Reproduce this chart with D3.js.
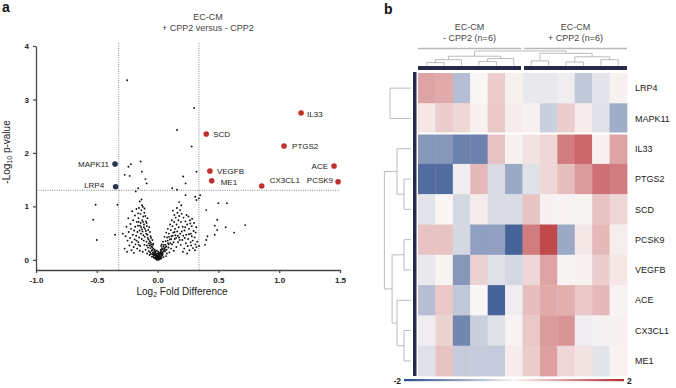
<!DOCTYPE html>
<html>
<head>
<meta charset="utf-8">
<script src="https://cdn.jsdelivr.net/npm/d3@7"></script>
<style>
    body { margin: 0; background: #fff; }
    svg { display: block; font-family: "Liberation Sans", Arial, sans-serif; }
</style>
</head>
<body>
<svg id="drawing_region" width="676" height="388"></svg>
<script>
// ---------- panel a : volcano ----------
const sigGenes = ["IL33", "SCD", "PTGS2", "VEGFB", "ME1", "CX3CL1", "ACE", "PCSK9", "MAPK11", "LRP4"];
const sigFC    = [1.18, 0.40, 1.04, 0.43, 0.445, 0.856, 1.451, 1.484, -0.35, -0.345];
const sigP     = [2.746, 2.353, 2.129, 1.661, 1.48, 1.38, 1.755, 1.461, 1.792, 1.367];
const sigUp    = [1, 1, 1, 1, 1, 1, 1, 1, 0, 0];

const xTicks = [-1.0, -0.5, 0.0, 0.5, 1.0, 1.5];
const yTicks = [0, 1, 2, 3, 4];
const fcCut = [-0.32, 0.34];
const pCut = 1.3;

// all other proteins [log2 fold difference, -log10 p]
const bgPoints = [
    [-0.25,3.36],[0.30,2.84],[0.16,2.43],[0.28,2.12],
    [-0.14,1.84],[-0.22,1.79],[-0.24,1.74],[-0.13,1.65],[-0.27,1.59],[-0.23,1.57],[-0.10,1.51],[-0.09,1.43],
    [-0.16,1.34],[-0.18,1.28],[0.12,1.34],[0.16,1.31],[0.21,1.56],[0.23,1.43],[0.32,1.65],[0.23,1.21],
    [0.31,1.18],[0.32,1.12],[0.34,1.15],[0.35,1.21],
    [-0.51,1.03],[-0.53,0.75],[-0.50,0.37],[-0.35,0.47],[-0.33,1.03],
    [0.40,0.93],[0.50,1.06],[0.57,1.06],[0.49,0.75],[0.56,0.61],[0.47,0.64],[0.49,0.56],[0.72,0.65],
    [0.63,0.51],[0.47,0.47],[0.41,0.44],[0.40,0.37],[0.39,0.28],[0.34,0.26],
    // left arm
    [-0.021,0.12],[-0.035,0.21],[-0.048,0.17],[-0.052,0.29],[-0.064,0.35],[-0.058,0.44],[-0.072,0.31],
    [-0.081,0.41],[-0.077,0.56],[-0.093,0.49],[-0.088,0.63],[-0.104,0.58],[-0.097,0.72],[-0.112,0.66],
    [-0.118,0.81],[-0.126,0.74],[-0.109,0.88],[-0.134,0.93],[-0.128,1.02],[-0.141,0.86],[-0.147,1.09],
    [-0.153,0.97],[-0.139,0.69],[-0.157,0.78],[-0.162,0.64],[-0.148,0.55],[-0.171,0.71],[-0.166,0.52],
    [-0.184,0.62],[-0.176,0.45],[-0.193,0.55],[-0.188,0.38],[-0.204,0.47],[-0.211,0.33],[-0.219,0.58],
    [-0.226,0.41],[-0.238,0.52],[-0.232,0.27],[-0.247,0.36],[-0.256,0.62],[-0.263,0.44],[-0.271,0.21],
    [-0.286,0.49],[-0.215,0.18],[-0.197,0.24],[-0.182,0.29],[-0.168,0.21],[-0.159,0.33],[-0.143,0.26],
    [-0.131,0.39],[-0.122,0.15],[-0.117,0.46],[-0.108,0.28],[-0.099,0.19],[-0.092,0.34],[-0.086,0.12],
    [-0.079,0.23],[-0.071,0.16],[-0.066,0.09],[-0.059,0.22],[-0.047,0.06],[-0.041,0.13],[-0.033,0.05],
    [-0.028,0.16],[-0.019,0.04],[-0.014,0.08],[-0.011,0.02],[-0.124,0.53],[-0.136,0.61],[-0.152,0.42],
    [-0.161,0.87],[-0.174,0.95],[-0.186,0.83],[-0.201,0.74],[-0.209,0.91],[-0.223,0.67],[-0.241,0.78],
    [-0.114,0.36],[-0.083,0.47],[-0.069,0.61],[-0.101,0.82],[-0.121,0.99],[-0.132,1.13],[-0.173,0.36],
    [-0.195,0.13],[-0.251,0.15],[-0.146,0.17],[-0.063,0.52],[-0.054,0.41],[-0.043,0.37],
    [-0.096,0.54],[-0.106,0.43],[-0.089,0.27],[-0.075,0.38],[-0.113,0.61],[-0.129,0.57],[-0.137,0.49],
    [-0.091,0.69],[-0.084,0.78],[-0.119,0.71],[-0.145,0.64],[-0.155,0.71],[-0.107,0.96],[-0.068,0.27],
    [-0.057,0.32],[-0.049,0.25],[-0.044,0.19],[-0.038,0.28],[-0.061,0.14],[-0.027,0.09],[-0.155,0.28],
    // right arm
    [0.018,0.09],[0.027,0.15],[0.036,0.22],[0.043,0.11],[0.051,0.28],[0.058,0.19],[0.066,0.35],
    [0.072,0.25],[0.079,0.42],[0.086,0.31],[0.093,0.49],[0.101,0.38],[0.108,0.56],[0.114,0.44],
    [0.122,0.63],[0.129,0.51],[0.136,0.71],[0.143,0.58],[0.149,0.79],[0.156,0.66],[0.163,0.88],
    [0.171,0.74],[0.159,0.97],[0.178,0.82],[0.184,0.93],[0.192,0.71],[0.198,0.86],[0.206,0.62],
    [0.213,0.79],[0.221,0.55],[0.228,0.72],[0.236,0.47],[0.243,0.66],[0.251,0.39],[0.258,0.58],
    [0.266,0.74],[0.273,0.49],[0.281,0.63],[0.289,0.36],[0.296,0.54],[0.304,0.42],[0.311,0.29],
    [0.318,0.61],[0.326,0.34],[0.291,0.22],[0.276,0.27],[0.262,0.18],[0.247,0.26],[0.233,0.31],
    [0.219,0.21],[0.204,0.37],[0.191,0.28],[0.177,0.42],[0.168,0.33],[0.154,0.24],[0.141,0.39],
    [0.133,0.17],[0.119,0.29],[0.111,0.21],[0.097,0.14],[0.089,0.23],[0.076,0.12],[0.069,0.07],
    [0.061,0.16],[0.048,0.05],[0.039,0.08],[0.031,0.04],[0.022,0.03],[0.013,0.05],[0.009,0.02],
    [0.117,0.74],[0.138,0.84],[0.147,0.46],[0.161,0.53],[0.174,0.61],[0.186,0.49],[0.199,0.53],
    [0.211,0.45],[0.224,0.41],[0.238,0.84],[0.254,0.81],[0.269,0.68],[0.284,0.77],[0.299,0.69],
    [0.313,0.51],[0.195,1.02],[0.176,1.08],[0.126,0.92],[0.102,0.66],[0.084,0.58],[0.071,0.51],
    [0.057,0.43],[0.045,0.34],[0.029,0.26],[0.208,0.15],[0.243,0.12],[0.272,0.33],[0.307,0.18],[0.319,0.24],
    [0.064,0.28],[0.074,0.19],[0.083,0.36],[0.091,0.29],[0.106,0.31],[0.112,0.39],[0.124,0.45],
    [0.131,0.33],[0.139,0.52],[0.152,0.41],[0.166,0.45],[0.182,0.37],[0.054,0.21],[0.046,0.15],
    [0.035,0.12],[0.026,0.19],[0.094,0.43],[0.258,0.48],[0.227,0.61],[0.281,0.44],
    // bottom of the V
    [0.000,0.01],[0.004,0.03],[-0.004,0.02],[0.007,0.06],[-0.007,0.05],[0.011,0.09],[-0.012,0.11],
    [0.015,0.13],[-0.016,0.07],[0.020,0.06],[-0.023,0.09],[0.024,0.11],[-0.026,0.03],[0.002,0.08],
    [-0.002,0.12],[0.016,0.02],[-0.009,0.01],[0.006,0.15],[-0.006,0.17],[0.031,0.18],[-0.031,0.13],
    [0.037,0.14],[-0.038,0.10],[0.012,0.04],[-0.017,0.15],[0.028,0.07],[-0.024,0.19],[0.041,0.20],
    [-0.044,0.24],[0.053,0.17],[-0.055,0.11],[0.062,0.23],[-0.062,0.27],[0.034,0.29],[-0.036,0.30],[0.047,0.25],
    [0.003,0.04],[-0.003,0.06],[0.009,0.03],[-0.010,0.04],[0.014,0.07],[-0.014,0.03],[0.018,0.10],
    [-0.019,0.12],[0.008,0.11],[-0.008,0.08],[0.021,0.14],[-0.021,0.16],[0.005,0.01],[-0.005,0.00],
    [0.010,0.00],[-0.012,0.02],[0.017,0.05],[-0.029,0.11],[0.032,0.10],[-0.034,0.07],[0.026,0.02]
];

// ---------- panel b : heatmap ----------
const rowGenes = ["LRP4", "MAPK11", "IL33", "PTGS2", "SCD", "PCSK9", "VEGFB", "ACE", "CX3CL1", "ME1"];
const colSamples = ["neg1", "neg2", "neg3", "neg4", "neg5", "neg6", "pos1", "pos2", "pos3", "pos4", "pos5", "pos6"];
const groupNames = ["- CPP2 (n=6)", "+ CPP2 (n=6)"];
const heatValues = [
    [0.8, 0.75, -0.65, 0.0, 0.4, 0.05, -0.15, -0.15, -0.1, -0.55, -0.2, 0.05],
    [0.15, 0.4, 0.3, 0.05, 0.45, 0.1, 0.05, -0.45, 0.4, 0.1, -0.25, -0.85],
    [-1.1, -1.1, -1.35, -1.35, 0.5, 0.05, 0.2, 0.3, 1.2, 1.4, 0.05, 0.8],
    [-1.6, -1.6, -0.1, 0.6, -0.3, -0.9, -0.25, 0.3, 0.55, 0.9, 1.3, 1.2],
    [-0.2, 0.0, -0.35, 0.1, -0.3, -0.3, 0.5, 0.05, 0.03, 0.02, 0.5, 0.3],
    [0.5, 0.5, -0.35, -1.0, -1.0, -1.7, 1.2, 1.7, -0.9, 0.15, 0.6, 0.08],
    [-0.15, 0.02, -1.1, 0.35, -0.25, -0.35, 0.3, 0.8, 0.02, 0.05, 0.4, 0.15],
    [-0.65, 0.45, -0.55, 0.0, -1.7, -0.1, 0.55, 0.75, 0.7, 0.45, 0.6, 0.02],
    [-0.1, 0.35, -1.3, -0.45, -0.25, 0.03, 0.45, 0.9, 0.95, -0.1, -0.05, 0.05],
    [-0.25, 0.5, -0.5, -0.5, -0.5, 0.1, 0.4, 0.85, 0.3, 0.2, -0.2, 0.03]
];
const colorStops = [-2, 0, 2];

// dendrograms: [height, left, right], leaves are names
const rowTreeTop = [3, "LRP4", "MAPK11"];
const rowTreeBottom = [3.8,
    [2, "IL33", [1, "PTGS2", "SCD"]],
    [2.7, [1, "PCSK9", "VEGFB"], [2, "ACE", [1, "CX3CL1", "ME1"]]]];
const colTree = [5,
    [3.2, [2, [1, "neg1", "neg2"], "neg3"], [2.4, [1.4, "neg4", "neg5"], "neg6"]],
    [4.2, [1.6, "pos1", "pos2"], [3, [1.2, "pos3", "pos4"], [2, "pos5", "pos6"]]]];

const svg = d3.select('#drawing_region');

// ===== volcano =====
const xscale = d3.scaleLinear().domain([-1, 1.5]).range([36, 340]);
const yscale = d3.scaleLinear().domain([-0.19, 4]).range([270, 46]);

svg.append('text').attr('x', 2).attr('y', 12)
    .attr('font-size', '14px').attr('font-weight', 'bold').attr('fill', '#111').text('a');

const title = svg.append('text').attr('text-anchor', 'middle').attr('font-size', '9px').attr('fill', '#444');
title.append('tspan').attr('x', 208).attr('y', 20).text('EC-CM');
title.append('tspan').attr('x', 208).attr('y', 31).text('+ CPP2 versus - CPP2');

// threshold lines
const thr = svg.append('g').attr('stroke', '#8a8a8a').attr('stroke-width', 1).attr('stroke-dasharray', '1,1.3');
fcCut.forEach(v => {
    thr.append('line').attr('x1', xscale(v)).attr('x2', xscale(v))
        .attr('y1', yscale(4.05)).attr('y2', yscale(-0.19));
});
thr.append('line').attr('x1', xscale(-1)).attr('x2', xscale(1.5))
    .attr('y1', yscale(pCut)).attr('y2', yscale(pCut));

// background points
svg.append('g').selectAll('circle')
    .data(bgPoints)
    .join('circle')
    .attr('cx', d => xscale(d[0]))
    .attr('cy', d => yscale(d[1]))
    .attr('r', 0.95)
    .attr('fill', '#111');

// axes
const xaxis = d3.axisBottom(xscale).tickValues(xTicks).tickFormat(d => d.toFixed(1)).tickSize(3).tickSizeOuter(0);
const yaxis = d3.axisLeft(yscale).tickValues(yTicks).tickFormat(d3.format('d')).tickSize(3).tickSizeOuter(0);

const xg = svg.append('g').attr('transform', `translate(0, ${yscale(-0.19)})`).call(xaxis);
const yg = svg.append('g').attr('transform', `translate(${xscale(-1)}, 0)`).call(yaxis);
[xg, yg].forEach(g => {
    g.select('.domain').attr('stroke', '#444').attr('stroke-width', 1.3);
    g.selectAll('.tick line').attr('stroke', '#444').attr('stroke-width', 1.2);
    g.selectAll('.tick text').attr('font-family', '"Liberation Sans", Arial, sans-serif')
        .attr('font-size', '8px').attr('font-weight', 'bold').attr('fill', '#222');
});
xg.selectAll('.tick text').attr('dy', '0.9em');
yg.selectAll('.tick text').attr('dx', '-1');

// axis titles
const xl = svg.append('text').attr('x', 182).attr('y', 295).attr('text-anchor', 'middle')
    .attr('font-size', '10px').attr('fill', '#222');
xl.append('tspan').text('Log');
xl.append('tspan').attr('font-size', '7px').attr('dy', 2).text('2');
xl.append('tspan').attr('dy', -2).text(' Fold Difference');

const yl = svg.append('text').attr('transform', 'translate(10, 152) rotate(-90)').attr('text-anchor', 'middle')
    .attr('font-size', '10px').attr('fill', '#222');
yl.append('tspan').text('-Log');
yl.append('tspan').attr('font-size', '7px').attr('dy', 2).text('10');
yl.append('tspan').attr('dy', -2).text(' p-value');

// significant proteins
const labelPos = {
    IL33: [6, 3.5, 'start'], SCD: [7, 3.3, 'start'], PTGS2: [8, 3, 'start'], VEGFB: [7, 2.5, 'start'],
    ME1: [9, 4.3, 'start'], CX3CL1: [8, -3, 'start'], ACE: [-6, 2.5, 'end'], PCSK9: [-5, 1.2, 'end'],
    MAPK11: [-6, 3, 'end'], LRP4: [-11.5, 1, 'end']
};
const sig = sigGenes.map((g, i) => ({gene: g, fc: sigFC[i], p: sigP[i], up: sigUp[i]}));
const sg = svg.append('g');
sg.selectAll('circle')
    .data(sig)
    .join('circle')
    .attr('cx', d => xscale(d.fc))
    .attr('cy', d => yscale(d.p))
    .attr('r', 2.8)
    .attr('fill', d => d.up ? '#c0302c' : '#2b3150');
sg.selectAll('text')
    .data(sig)
    .join('text')
    .attr('x', d => xscale(d.fc) + labelPos[d.gene][0])
    .attr('y', d => yscale(d.p) + labelPos[d.gene][1])
    .attr('text-anchor', d => labelPos[d.gene][2])
    .attr('font-size', '8px')
    .attr('fill', '#1a1a1a')
    .text(d => d.gene);

// ===== heatmap =====
svg.append('text').attr('x', 384).attr('y', 14)
    .attr('font-size', '14px').attr('font-weight', 'bold').attr('fill', '#111').text('b');

const hx = d3.scaleBand().domain(colSamples).range([418, 627]);
const hy = d3.scaleBand().domain(rowGenes).range([73, 376]);
const color = d3.scaleLinear().domain(colorStops).range(['#284a8a', '#f9f6f5', '#b62a2e']);

const cells = [];
heatValues.forEach((row, i) => row.forEach((v, j) => cells.push({gene: rowGenes[i], sample: colSamples[j], v: v})));

svg.append('g').selectAll('rect')
    .data(cells)
    .join('rect')
    .attr('x', d => hx(d.sample))
    .attr('y', d => hy(d.gene))
    .attr('width', hx.bandwidth() + 0.4)
    .attr('height', hy.bandwidth() + 0.4)
    .attr('fill', d => color(d.v));

// separation between row clusters
svg.append('line').attr('x1', 413).attr('x2', 628)
    .attr('y1', hy('IL33')).attr('y2', hy('IL33'))
    .attr('stroke', '#fff').attr('stroke-width', 2);

// annotation bars
svg.append('rect').attr('x', 413).attr('y', 72).attr('width', 3.5).attr('height', 304).attr('fill', '#272b48');
const groupCols = [colSamples.slice(0, 6), colSamples.slice(6)];
groupCols.forEach((cols, k) => {
    const x0 = hx(cols[0]) + (k ? 1.5 : 0);
    const x1 = hx(cols[cols.length - 1]) + hx.bandwidth() - (k ? 0 : 1.5);
    svg.append('rect').attr('x', x0).attr('y', 66).attr('width', x1 - x0).attr('height', 4).attr('fill', '#272b48');
    svg.append('line').attr('x1', x0).attr('x2', x1).attr('y1', 48.5).attr('y2', 48.5)
        .attr('stroke', '#b8b8b8').attr('stroke-width', 1.3);
    const gt = svg.append('text').attr('text-anchor', 'middle').attr('font-size', '9px').attr('fill', '#444');
    gt.append('tspan').attr('x', (x0 + x1) / 2).attr('y', 30).text('EC-CM');
    gt.append('tspan').attr('x', (x0 + x1) / 2).attr('y', 41).text(groupNames[k]);
});

// row labels
svg.append('g').selectAll('text')
    .data(rowGenes)
    .join('text')
    .attr('x', 635)
    .attr('y', d => hy(d) + hy.bandwidth() / 2 + 3.2)
    .attr('font-size', '9px')
    .attr('fill', '#1a1a1a')
    .text(d => d);

// dendrograms
function drawTree(g, node, leafPos, hpos, vertical) {
    if (typeof node === 'string') return {p: leafPos(node), h: 0};
    const a = drawTree(g, node[1], leafPos, hpos, vertical);
    const b = drawTree(g, node[2], leafPos, hpos, vertical);
    const h = node[0];
    let d;
    if (vertical) {
        d = `M${a.p},${hpos(a.h)}V${hpos(h)}H${b.p}V${hpos(b.h)}`;
    } else {
        d = `M${hpos(a.h)},${a.p}H${hpos(h)}V${b.p}H${hpos(b.h)}`;
    }
    g.append('path').attr('d', d);
    return {p: (a.p + b.p) / 2, h: h};
}
const dg = svg.append('g').attr('fill', 'none').attr('stroke', '#b3b3b3').attr('stroke-width', 0.9);
const rowH = d3.scaleLinear().domain([0, 4]).range([411, 383]);
const rowLeaf = g => hy(g) + hy.bandwidth() / 2;
drawTree(dg, rowTreeTop, rowLeaf, rowH, false);
drawTree(dg, rowTreeBottom, rowLeaf, rowH, false);
const colH = d3.scaleLinear().domain([0, 5]).range([65.5, 51]);
drawTree(dg, colTree, s => hx(s) + hx.bandwidth() / 2, colH, true);

// colour key
const grad = svg.append('defs').append('linearGradient').attr('id', 'key');
d3.range(-2, 2.01, 0.5).forEach(v => {
    grad.append('stop').attr('offset', `${(v + 2) / 4 * 100}%`).attr('stop-color', color(v));
});
const keyScale = d3.scaleLinear().domain([-2, 2]).range([404, 624]);
svg.append('rect').attr('x', keyScale(-2)).attr('y', 379).attr('width', keyScale(2) - keyScale(-2))
    .attr('height', 2.2).attr('fill', 'url(#key)');
svg.append('text').attr('x', keyScale(-2) - 3).attr('y', 384).attr('text-anchor', 'end')
    .attr('font-size', '8.5px').attr('font-weight', 'bold').attr('fill', '#222').text('-2');
svg.append('text').attr('x', keyScale(2) + 3).attr('y', 384)
    .attr('font-size', '8.5px').attr('font-weight', 'bold').attr('fill', '#222').text('2');
</script>
</body>
</html>
